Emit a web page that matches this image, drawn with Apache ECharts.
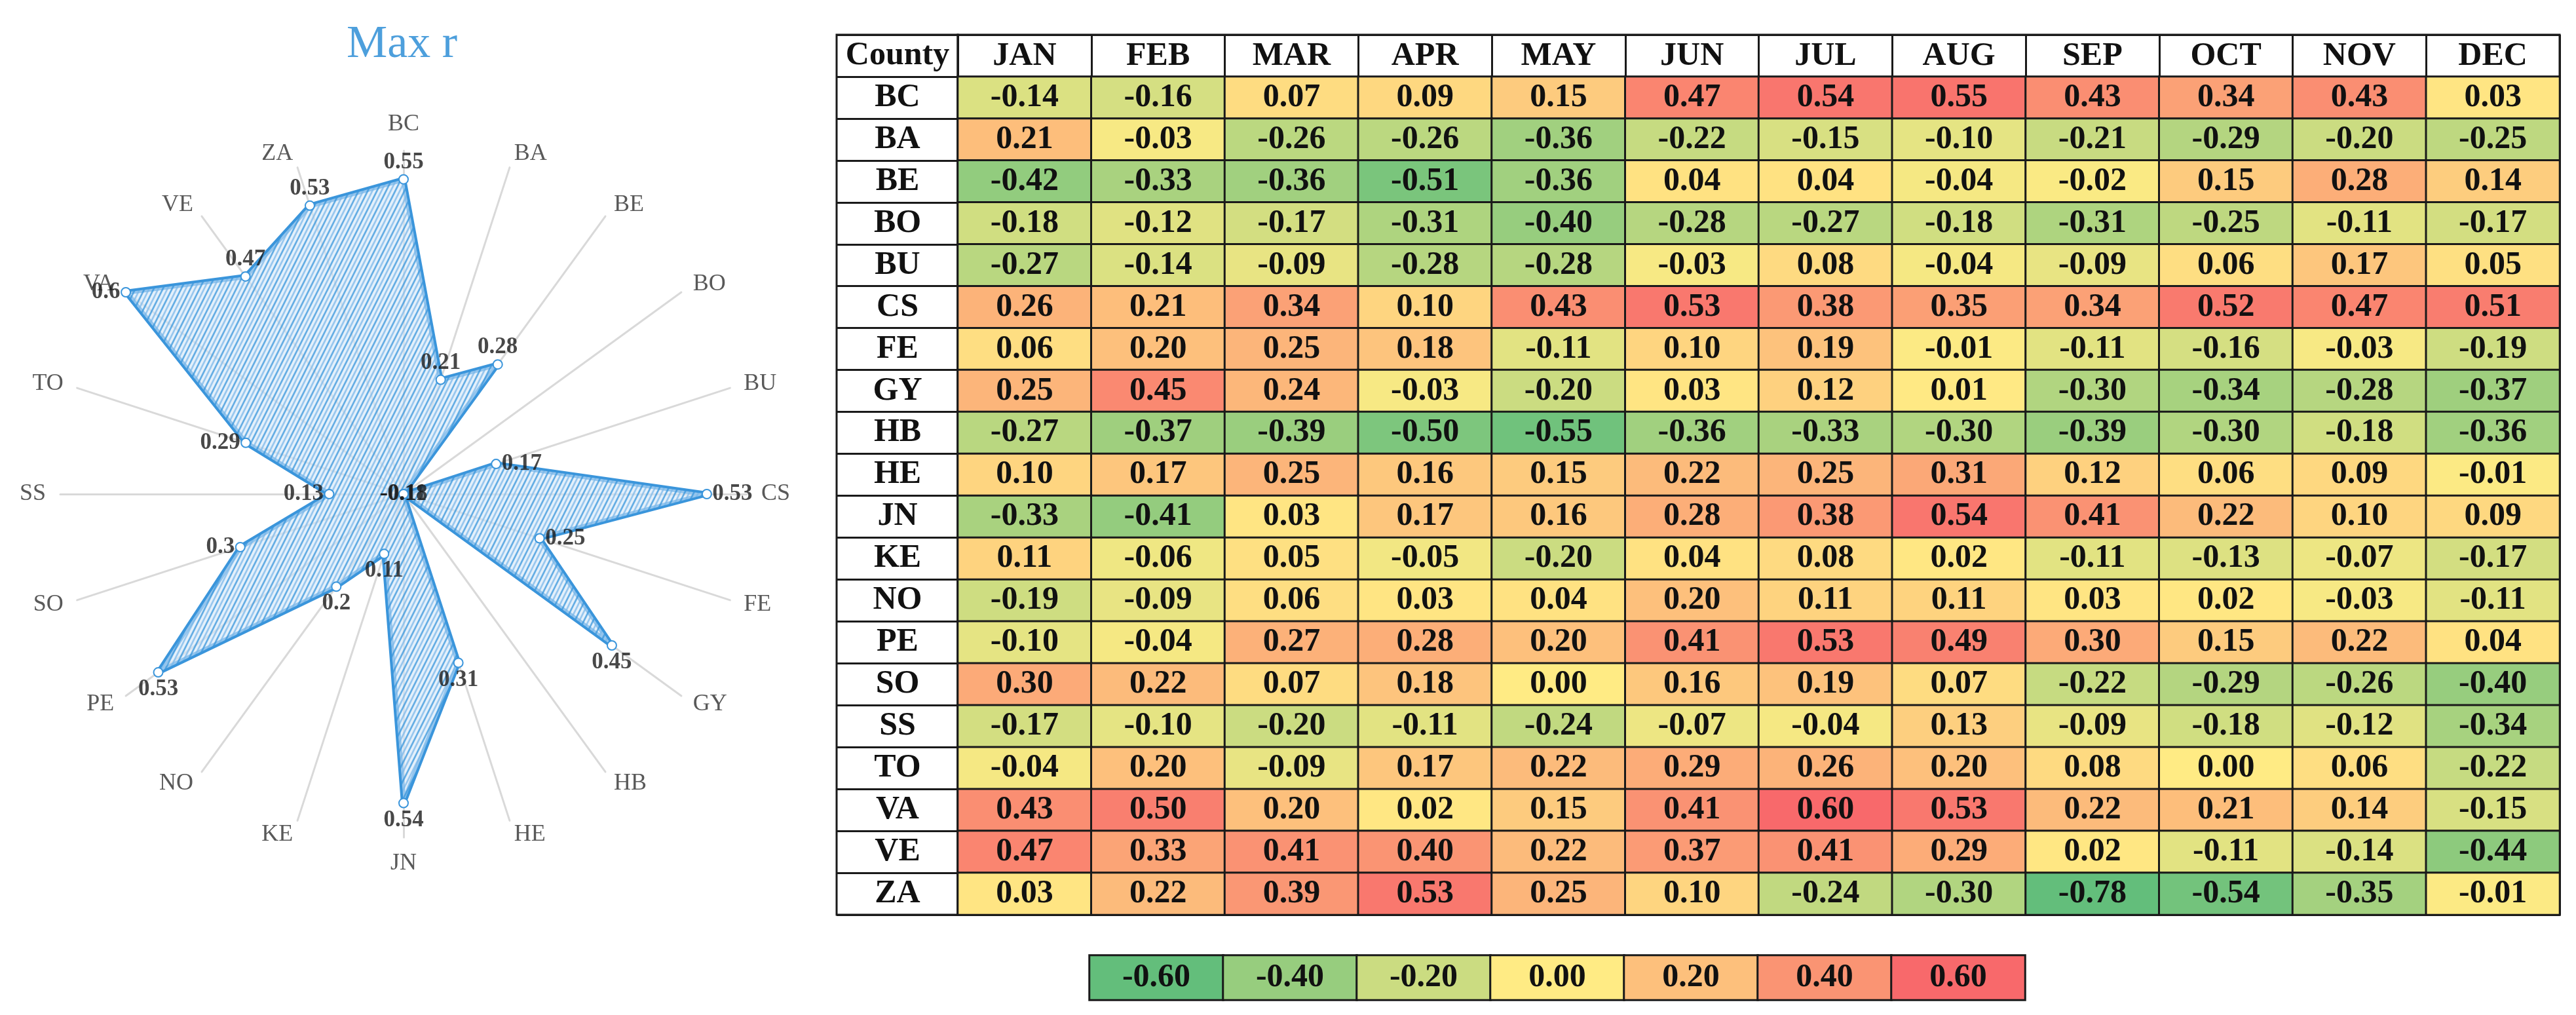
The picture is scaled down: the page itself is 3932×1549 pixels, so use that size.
<!DOCTYPE html>
<html>
<head>
<meta charset="utf-8">
<title>Max r</title>
<script src="https://cdn.jsdelivr.net/npm/echarts@6/dist/echarts.min.js"></script>
<style>
  html, body { margin: 0; padding: 0; background: #fff; }
  #main { width: 3932px; height: 1549px; }
</style>
</head>
<body>
<div id="main"></div>
<script>
// table rows / columns
var counties = ['BC', 'BA', 'BE', 'BO', 'BU', 'CS', 'FE', 'GY', 'HB', 'HE',
  'JN', 'KE', 'NO', 'PE', 'SO', 'SS', 'TO', 'VA', 'VE', 'ZA'];
var months = ['JAN', 'FEB', 'MAR', 'APR', 'MAY', 'JUN', 'JUL', 'AUG', 'SEP', 'OCT', 'NOV', 'DEC'];

// monthly r per county
var BC = [-0.14, -0.16, 0.07, 0.09, 0.15, 0.47, 0.54, 0.55, 0.43, 0.34, 0.43, 0.03];
var BA = [0.21, -0.03, -0.26, -0.26, -0.36, -0.22, -0.15, -0.10, -0.21, -0.29, -0.20, -0.25];
var BE = [-0.42, -0.33, -0.36, -0.51, -0.36, 0.04, 0.04, -0.04, -0.02, 0.15, 0.28, 0.14];
var BO = [-0.18, -0.12, -0.17, -0.31, -0.40, -0.28, -0.27, -0.18, -0.31, -0.25, -0.11, -0.17];
var BU = [-0.27, -0.14, -0.09, -0.28, -0.28, -0.03, 0.08, -0.04, -0.09, 0.06, 0.17, 0.05];
var CS = [0.26, 0.21, 0.34, 0.10, 0.43, 0.53, 0.38, 0.35, 0.34, 0.52, 0.47, 0.51];
var FE = [0.06, 0.20, 0.25, 0.18, -0.11, 0.10, 0.19, -0.01, -0.11, -0.16, -0.03, -0.19];
var GY = [0.25, 0.45, 0.24, -0.03, -0.20, 0.03, 0.12, 0.01, -0.30, -0.34, -0.28, -0.37];
var HB = [-0.27, -0.37, -0.39, -0.50, -0.55, -0.36, -0.33, -0.30, -0.39, -0.30, -0.18, -0.36];
var HE = [0.10, 0.17, 0.25, 0.16, 0.15, 0.22, 0.25, 0.31, 0.12, 0.06, 0.09, -0.01];
var JN = [-0.33, -0.41, 0.03, 0.17, 0.16, 0.28, 0.38, 0.54, 0.41, 0.22, 0.10, 0.09];
var KE = [0.11, -0.06, 0.05, -0.05, -0.20, 0.04, 0.08, 0.02, -0.11, -0.13, -0.07, -0.17];
var NO = [-0.19, -0.09, 0.06, 0.03, 0.04, 0.20, 0.11, 0.11, 0.03, 0.02, -0.03, -0.11];
var PE = [-0.10, -0.04, 0.27, 0.28, 0.20, 0.41, 0.53, 0.49, 0.30, 0.15, 0.22, 0.04];
var SO = [0.30, 0.22, 0.07, 0.18, 0.00, 0.16, 0.19, 0.07, -0.22, -0.29, -0.26, -0.40];
var SS = [-0.17, -0.10, -0.20, -0.11, -0.24, -0.07, -0.04, 0.13, -0.09, -0.18, -0.12, -0.34];
var TO = [-0.04, 0.20, -0.09, 0.17, 0.22, 0.29, 0.26, 0.20, 0.08, 0.00, 0.06, -0.22];
var VA = [0.43, 0.50, 0.20, 0.02, 0.15, 0.41, 0.60, 0.53, 0.22, 0.21, 0.14, -0.15];
var VE = [0.47, 0.33, 0.41, 0.40, 0.22, 0.37, 0.41, 0.29, 0.02, -0.11, -0.14, -0.44];
var ZA = [0.03, 0.22, 0.39, 0.53, 0.25, 0.10, -0.24, -0.30, -0.78, -0.54, -0.35, -0.01];
var rows = [BC, BA, BE, BO, BU, CS, FE, GY, HB, HE, JN, KE, NO, PE, SO, SS, TO, VA, VE, ZA];

// colour scale legend
var legendTicks = [-0.6, -0.4, -0.2, 0, 0.2, 0.4, 0.6];

var serif = 'Liberation Serif';
var blue = '#3a95db';

// max r of every county, the radar series
var maxR = rows.map(function (r) { return Math.max.apply(null, r); });

// radar goes counter clockwise, so feed it BC then the rest backwards
var order = [0];
for (var k = counties.length - 1; k > 0; k--) order.push(k);

// hatched fill for the radar area
function hatch() {
  var c = document.createElement('canvas');
  c.width = 14; c.height = 28;
  var g = c.getContext('2d');
  g.fillStyle = 'rgba(210,230,249,0.6)';
  g.fillRect(0, 0, 14, 28);
  g.lineWidth = 2.6;
  for (var n = -4; n < 9; n++) {
    var cc = n * 14;
    g.strokeStyle = n % 2 ? 'rgba(58,149,219,0.75)' : 'rgba(120,182,233,0.7)';
    g.beginPath();
    g.moveTo(-14, cc + 28);
    g.lineTo(28, cc - 56);
    g.stroke();
  }
  return c;
}

function labelPos(i) {
  if (maxR[i] <= 0) return 'inside';
  var a = i * 360 / counties.length;
  if (a < 60 || a > 315) return 'top';
  if (a < 120) return 'right';
  if (a < 240) return 'bottom';
  return 'left';
}

var cells = [];
counties.forEach(function (c, i) {
  months.forEach(function (m, j) {
    cells.push([m, c, rows[i][j]]);
  });
});

var tableTop = 53, tableH = 1343;
var cellFont = { fontFamily: serif, fontWeight: 'bold', fontSize: 50, color: '#111' };

var chart = echarts.init(document.getElementById('main'));
chart.setOption({
  backgroundColor: '#fff',
  animation: false,
  title: {
    text: 'Max r',
    left: 529,
    top: 34,
    padding: 0,
    textStyle: { fontFamily: serif, fontWeight: 'normal', fontSize: 70, color: '#4d9fdc' }
  },
  radar: {
    center: [616, 754],
    radius: 524,
    startAngle: 90,
    shape: 'polygon',
    nameGap: 22,
    axisName: { color: '#595959', fontFamily: serif, fontSize: 36 },
    axisLine: { lineStyle: { color: '#d9d9d9', width: 3 } },
    splitLine: { show: false },
    splitArea: { show: false },
    indicator: order.map(function (i) { return { name: counties[i], min: 0, max: 0.6 }; })
  },
  polar: { center: [616, 754], radius: 524 },
  angleAxis: {
    type: 'category',
    data: counties,
    startAngle: 90,
    clockwise: true,
    boundaryGap: false,
    show: false
  },
  radiusAxis: { min: 0, max: 0.6, show: false },
  grid: [
    { left: 1462, top: tableTop, width: 2445, height: tableH, show: true, borderColor: '#1a1a1a', borderWidth: 3 },
    { left: 1277, top: tableTop, width: 185, height: tableH, show: true, borderColor: '#1a1a1a', borderWidth: 3 },
    { left: 1663, top: 1458, width: 1428, height: 68 }
  ],
  xAxis: [
    {
      gridIndex: 0, type: 'category', data: months, position: 'top',
      axisLine: { show: false }, axisTick: { show: false },
      axisLabel: Object.assign({ inside: true, verticalAlign: 'middle', margin: 33, interval: 0 }, cellFont),
      splitLine: { show: true, interval: 0, lineStyle: { color: '#1a1a1a', width: 3 } }
    },
    {
      gridIndex: 1, type: 'category', data: [''],
      axisLine: { show: false }, axisTick: { show: false }, axisLabel: { show: false }
    },
    {
      gridIndex: 2, type: 'category', data: legendTicks.map(function (v) { return v.toFixed(2); }),
      show: false
    }
  ],
  yAxis: [
    {
      gridIndex: 0, type: 'category', data: ['County'].concat(counties), inverse: true,
      axisLine: { show: false }, axisTick: { show: false },
      axisLabel: Object.assign({ align: 'center', margin: 92, interval: 0 }, cellFont),
      splitLine: { show: true, interval: 0, lineStyle: { color: '#1a1a1a', width: 3 } }
    },
    {
      gridIndex: 1, type: 'category', data: ['County'].concat(counties), inverse: true,
      axisLine: { show: false }, axisTick: { show: false }, axisLabel: { show: false },
      splitLine: { show: true, interval: 0, lineStyle: { color: '#1a1a1a', width: 3 } }
    },
    { gridIndex: 2, type: 'category', data: [''], show: false }
  ],
  visualMap: {
    type: 'continuous',
    show: false,
    min: -0.6,
    max: 0.6,
    dimension: 2,
    seriesIndex: [2, 3],
    inRange: { color: ['#63BE7B', '#FFEB84', '#F8696B'] }
  },
  series: [
    {
      type: 'radar',
      symbol: 'emptyCircle',
      symbolSize: 14,
      lineStyle: { color: blue, width: 8 },
      itemStyle: { color: blue, borderWidth: 3 },
      areaStyle: { color: { image: hatch(), repeat: 'repeat' }, opacity: 1 },
      data: [{ value: order.map(function (i) { return Math.max(maxR[i], 0); }) }]
    },
    {
      type: 'scatter',
      coordinateSystem: 'polar',
      symbolSize: 1,
      itemStyle: { color: 'transparent' },
      z: 5,
      data: counties.map(function (c, i) {
        return {
          value: [Math.max(maxR[i], 0), i],
          label: { position: labelPos(i) }
        };
      }),
      label: {
        show: true,
        distance: 8,
        fontFamily: serif,
        fontWeight: 'bold',
        fontSize: 35,
        color: '#1a1a1a',
        formatter: function (p) { return String(maxR[p.dataIndex]); }
      }
    },
    {
      type: 'heatmap',
      xAxisIndex: 0,
      yAxisIndex: 0,
      data: cells,
      itemStyle: { borderColor: '#1a1a1a', borderWidth: 3 },
      label: Object.assign({ show: true, formatter: function (p) { return p.value[2].toFixed(2); } }, cellFont)
    },
    {
      type: 'heatmap',
      xAxisIndex: 2,
      yAxisIndex: 2,
      data: legendTicks.map(function (v, i) { return [i, 0, v]; }),
      itemStyle: { borderColor: '#1a1a1a', borderWidth: 3 },
      label: Object.assign({ show: true, formatter: function (p) { return p.value[2].toFixed(2); } }, cellFont)
    }
  ]
});
</script>
</body>
</html>
